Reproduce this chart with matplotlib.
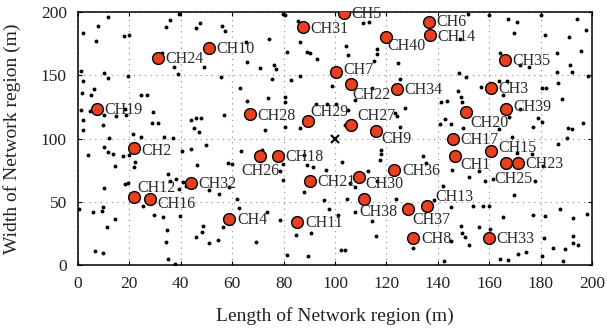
import matplotlib
matplotlib.use("Agg")
import matplotlib.pyplot as plt

# ---- sensor nodes (small black dots) ----
node_x = [11.5, 7.9, 2.1, 7.0, 18.0, 19.7, 34.2, 35.9, 39.4, 47.5, 45.9, 55.9, 57.3, 65.4, 32.6, 37.2,
          38.8, 48.9, 1.0, 1.8, 10.2, 11.8, 19.3, 55.6, 65.6, 1.6, 6.1, 5.1, 24.5, 26.7, 63.2, 65.6,
          1.2, 4.7, 10.2, 14.8, 18.4, 18.7, 29.1, 44.0, 45.9, 47.9, 28.8, 31.0, 56.9, 2.1, 9.6, 2.1,
          45.3, 47.0, 21.3, 24.5, 33.6, 36.8, 12.2,
          79.8, 80.7, 85.6, 110.9, 113.1, 74.2, 86.5, 81.5, 89.1, 90.4, 93.0, 104.2, 105.1, 116.5,
          116.2, 115.0, 124.5, 70.7, 76.3, 77.2, 75.5, 82.7, 86.3, 99.0, 125.2, 73.9, 80.4, 80.4,
          92.7, 96.9, 100.5, 107.9, 114.4, 127.1, 123.2, 124.1, 105.1, 80.7, 86.5, 72.9, 103.8, 125.2,
          151.6, 159.9, 167.4, 170.9, 180.0, 194.0, 197.5, 169.8, 181.7, 190.9, 195.7, 148.6, 164.2,
          172.0, 175.6, 186.3, 191.4, 186.3, 192.1, 148.4, 150.8, 198.3, 156.8, 163.8, 167.0, 165.2,
          180.4, 182.1, 186.9, 147.7, 148.9, 149.3, 141.1, 143.5, 188.2, 172.0, 167.8, 142.8, 179.1,
          180.4, 196.6, 140.9, 145.0, 149.7, 163.9, 177.2, 190.5, 192.1, 168.7, 190.2,
          3.8, 10.2, 11.5, 13.5, 17.4, 20.0, 14.5, 22.3, 21.9, 40.5, 44.0, 49.8, 63.4, 58.2, 59.9,
          46.3, 34.9, 35.8, 38.1, 40.7, 42.0, 39.2, 51.1, 55.0, 58.6, 18.4, 19.3, 10.2, 0.5, 6.0,
          9.3, 9.6, 14.4, 11.3, 25.4, 29.7, 33.2, 39.8, 34.5, 48.5, 48.2, 45.9, 51.1, 54.3, 56.3,
          61.9, 62.5, 34.2, 6.6, 9.9, 34.9, 37.9,
          71.7, 79.8, 78.5, 79.8, 87.9, 89.2, 91.4, 96.4, 102.7, 117.8, 118.0, 117.4, 112.8, 116.5,
          105.7, 107.9, 87.9, 95.7, 104.8, 97.7, 101.2, 107.9, 114.4, 123.6, 73.7, 78.5, 85.0, 90.8,
          116.1, 69.4, 102.2, 103.8, 130.4, 81.5, 89.5,
          186.9, 170.7, 176.5, 180.8, 134.4, 135.4, 145.4, 152.3, 156.2, 158.4, 161.6, 177.8, 142.2,
          169.8, 138.7, 145.0, 153.8, 157.7, 159.9, 177.2, 181.7, 187.5, 192.5, 197.9, 165.2, 148.9,
          156.2, 160.3, 149.3, 150.6, 152.3, 145.0, 181.3, 192.5, 192.7, 194.7, 184.9, 189.5, 174.3,
          171.3, 164.2, 167.5, 180.4, 188.6, 142.4]
node_y = [196.0, 189.4, 183.4, 177.3, 181.3, 181.8, 188.1, 193.9, 198.7, 191.8, 187.3, 189.4, 185.5,
          176.3, 167.5, 156.5, 151.2, 157.0, 153.6, 145.6, 151.7, 148.3, 149.9, 149.1, 160.9, 136.4,
          139.3, 134.6, 134.6, 134.6, 139.8, 130.1, 122.7, 121.9, 118.7, 118.2, 123.5, 118.7, 121.4,
          114.8, 116.1, 116.1, 112.1, 112.1, 118.7, 114.8, 110.8, 106.9, 108.2, 105.5, 103.7, 101.1,
          101.1, 100.3, 100.3,
          198.7, 197.9, 193.4, 191.8, 192.6, 178.6, 176.8, 168.9, 168.9, 168.1, 162.8, 173.4, 166.2,
          170.7, 166.8, 161.7, 159.6, 156.2, 158.3, 154.9, 147.0, 146.4, 149.9, 141.7, 147.2, 132.5,
          133.2, 128.8, 127.4, 127.4, 127.2, 130.6, 139.8, 124.5, 120.1, 117.9, 122.7, 109.5, 108.7,
          106.9, 110.8, 109.0,
          198.7, 197.9, 194.5, 192.6, 197.9, 194.7, 186.0, 183.4, 182.1, 180.7, 169.7, 178.6, 168.1,
          158.3, 157.0, 167.5, 158.3, 152.5, 152.5, 151.7, 148.5, 149.9, 141.2, 145.9, 145.9, 134.6,
          140.4, 139.8, 144.3, 138.0, 132.7, 129.3, 129.3, 130.1, 131.1, 123.2, 117.4, 115.3, 116.1,
          113.5, 112.1, 111.6, 111.6, 108.7, 107.4, 109.5, 108.2, 107.4, 101.1, 100.3,
          87.3, 93.1, 89.4, 87.9, 86.0, 86.8, 78.6, 81.5, 77.3, 90.5, 91.8, 95.3, 90.0, 80.7, 79.9,
          79.4, 72.0, 66.8, 68.3, 65.7, 62.3, 60.4, 59.6, 56.2, 61.5, 64.4, 64.9, 60.9, 44.3, 42.0,
          42.5, 45.9, 36.4, 30.1, 46.4, 39.3, 37.7, 38.5, 27.4, 30.6, 25.9, 22.2, 17.4, 20.1, 30.1,
          52.2, 45.1, 17.9, 10.8, 9.5, 5.0, 0.5,
          90.8, 80.2, 74.1, 67.0, 87.3, 78.9, 77.3, 74.9, 81.5, 91.3, 87.9, 82.8, 74.1, 66.2, 64.9,
          61.5, 57.8, 51.7, 52.5, 44.3, 39.8, 42.0, 35.1, 52.2, 42.0, 35.9, 23.5, 25.3, 23.2, 18.2,
          11.6, 11.6, 13.5, 7.7, 7.4,
          96.0, 88.7, 87.9, 78.1, 86.0, 80.7, 74.9, 69.4, 74.1, 66.2, 68.3, 66.2, 62.8, 55.1, 51.2,
          45.9, 46.4, 46.4, 46.4, 39.3, 38.5, 44.3, 37.2, 40.6, 38.0, 30.6, 29.8, 28.8, 25.3, 22.2,
          16.1, 19.3, 21.4, 22.7, 17.4, 15.6, 13.5, 12.7, 10.0, 8.7, 5.0, 4.2, 6.9, 3.4, 3.4]

# ---- cluster heads ----
ch_labels = ["CH%d" % i for i in range(1, 41)]
ch_x = [146.7, 21.6, 160.7, 58.9, 103.5, 136.6, 100.4, 130.5, 116.0, 51.0,
        85.4, 21.9, 135.9, 137.0, 160.8, 28.0, 145.8, 77.9, 7.3, 151.0,
        90.3, 106.3, 171.1, 31.1, 166.5, 70.8, 106.3, 66.9, 89.4, 109.3,
        87.4, 43.9, 160.0, 124.0, 166.1, 123.1, 128.3, 111.2, 166.4, 119.7]
ch_y = [86.3, 92.2, 140.1, 36.2, 199.2, 192.7, 152.5, 21.6, 106.0, 171.7,
        33.8, 54.0, 46.5, 182.3, 90.5, 52.2, 99.7, 86.3, 123.7, 120.9,
        66.7, 143.3, 81.0, 164.1, 81.0, 86.3, 110.8, 119.5, 114.2, 69.4,
        188.6, 65.1, 21.1, 139.3, 162.2, 75.4, 44.3, 52.5, 123.7, 180.2]

# base station
bs_x = [100]
bs_y = [100]

x_ticks = [0, 20, 40, 60, 80, 100, 120, 140, 160, 180, 200]
y_ticks = [0, 50, 100, 150, 200]

# label placement (offset in points, horizontal alignment)
default_off = (5.5, -0.7, "left")
special_off = {
    "CH40": (1.5, -6, "left"), "CH22": (0.7, -8, "left"), "CH20": (3, -8, "left"),
    "CH26": (0, -11, "center"), "CH12": (2, 6.5, "left"), "CH16": (5, -3.5, "left"),
    "CH30": (4.3, -5, "left"), "CH38": (-3, -9.5, "left"), "CH37": (3, -8, "left"),
    "CH13": (6, 6.5, "left"), "CH9": (3.5, -6, "left"), "CH1": (3.5, -6.5, "left"),
    "CH25": (-8, -11.5, "left"), "CH15": (5, 2, "left"), "CH27": (4.3, 6.5, "left"),
    "CH29": (2, 6, "left"), "CH7": (5, 2, "left"), "CH28": (5.5, -1.5, "left"),
    "CH31": (5.5, -1.5, "left"), "CH2": (5.5, -1.5, "left"), "CH39": (5.5, 1, "left"),
    "CH6": (5.5, 0, "left"), "CH14": (5.5, -1.5, "left"),
}

plt.rcParams["font.family"] = ["Liberation Serif", "DejaVu Serif"]

fig = plt.figure(figsize=(6.07, 3.32), dpi=100)
ax = fig.add_axes([0.1285, 0.2018, 0.8468, 0.7612])

ax.plot(node_x, node_y, "o", color="black", markersize=1.8, linestyle="none", zorder=3)
ax.plot(ch_x, ch_y, "o", markerfacecolor="#E8401E", markeredgecolor="black",
        markeredgewidth=1.0, markersize=8.5, linestyle="none", zorder=4)
ax.plot(bs_x, bs_y, "x", color="black", markersize=6, markeredgewidth=1.5, zorder=5)

for lab, x, y in zip(ch_labels, ch_x, ch_y):
    dx, dy, ha = special_off.get(lab, default_off)
    ax.annotate(lab, (x, y), xytext=(dx, dy), textcoords="offset points",
                ha=ha, va="center", fontsize=11.5, color="#2a2a2a", zorder=6)

ax.set_xlim(0, 200)
ax.set_ylim(0, 200)
ax.set_xticks(x_ticks)
ax.set_yticks(y_ticks)
ax.tick_params(direction="in", top=True, right=True, length=3, labelsize=12.5, pad=8,
               labelcolor="#222222")
ax.grid(True, linestyle=(0, (1, 4)), color="#888888", linewidth=0.8)
for s in ax.spines.values():
    s.set_linewidth(1.1)
ax.set_xlabel("Length of Network region (m)", fontsize=14, labelpad=11, color="#222222")
ax.set_ylabel("Width of Network region (m)", fontsize=14, labelpad=14, color="#222222")

fig.savefig("out.png", dpi=100)
